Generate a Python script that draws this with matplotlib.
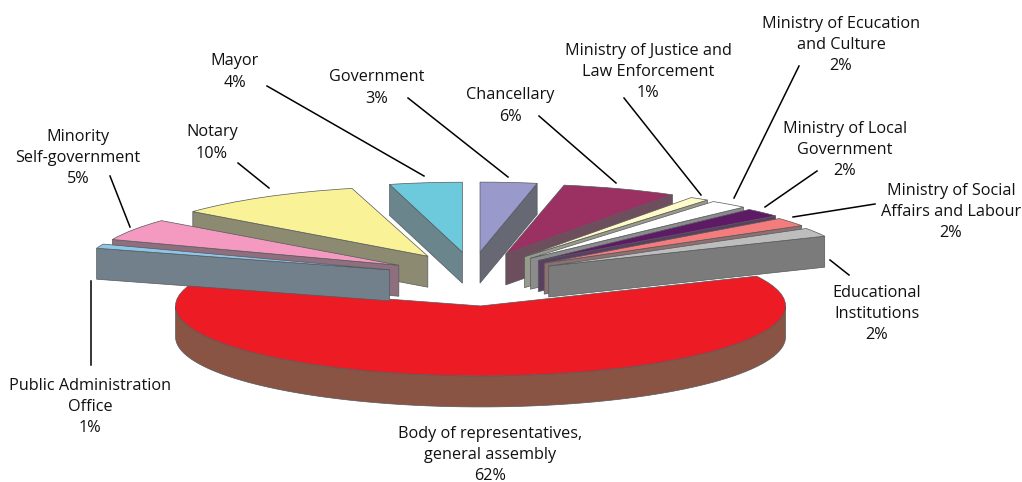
import numpy as np
import matplotlib
matplotlib.use('Agg')
import matplotlib.pyplot as plt
from matplotlib.patches import Polygon
from matplotlib.transforms import Affine2D

plt.rcParams['font.family'] = ['Open Sans', 'DejaVu Sans']

# clockwise from 12 o'clock
names = ['Government', 'Chancellary', 'Ministry of Justice and\nLaw Enforcement',
         'Ministry of Ecucation\nand Culture', 'Ministry of Local\nGovernment',
         'Ministry of Social\nAffairs and Labour', 'Educational\nInstitutions',
         'Body of representatives,\ngeneral assembly', 'Public Administration\nOffice',
         'Minority\nSelf-government', 'Notary', 'Mayor']
shares = [3, 6, 1, 2, 2, 2, 2, 62, 1, 5, 10, 4]

top_colors = ['#9999CC', '#9A3162', '#FFFBC9', '#FFFFFF', '#5F1A66', '#F47C7C', '#BDBDBD',
              '#ED1C24', '#8EC6EA', '#F49AC1', '#F9F297', '#6DCADD']
wall_colors = ['#666874', '#6D4E5C', '#9A9A8C', '#8C8C8C', '#5A4060', '#8F7070', '#7B7B7B',
               '#8A5444', '#72808C', '#8F6F7E', '#8C8B72', '#6A858C']

# per slice tweak of how far it is pulled out and how long it is
spread = [1.0, 1.08, 1.1, 1.08, 1.07, 1.05, 1.03, 1.6, 1.03, 1.0, 0.97, 0.9]
reach = [1.0, 1.02, 1.02, 1.02, 1.01, 1.0, 1.0, 1.0, 1.01, 1.01, 1.0, 0.96]

# label centres and leader lines, in pixels
label_xy = [(377, 88), (510, 106), (648, 72), (841, 45), (845, 150), (951, 212), (877, 314),
            (490, 455), (90, 407), (78, 158), (212, 143), (235, 72)]
leaders = [((408, 98), (508, 177)), ((539, 116), (616, 183)), ((624, 98), (701, 195)),
           ((799, 66), (734, 198)), ((817, 171), (765, 207)), ((875, 204), (793, 217)),
           ((849, 275), (830, 260)), None, ((91, 281), (91, 365)), ((110, 176), (130, 227)),
           ((238, 163), (269, 188)), ((267, 86), (424, 176))]

cx, cy = 472, 279
rx, ry = 305, 70
ex, ey = 85, 27
depth = 31
edge = '#55595c'

fig = plt.figure(figsize=(10.22, 4.82), dpi=100)
ax = fig.add_axes([0, 0, 1, 1])
wedges, _ = ax.pie(shares, startangle=90, counterclock=False, radius=1)
ax.set_aspect('auto')
ax.set_xlim(0, 1022)
ax.set_ylim(482, 0)
ax.axis('off')


def point(x0, y0, a, sx, d=0):
    t = np.radians(a)
    return x0 + rx * sx * np.cos(t), y0 - ry * np.sin(t) + d


# red goes underneath everything, then back to front on each side
order = [7, 11, 10, 9, 8, 0, 1, 2, 3, 4, 5, 6]
for z, i in enumerate(order):
    w = wedges[i]
    mid = np.radians((w.theta1 + w.theta2) / 2)
    x0 = cx + ex * spread[i] * np.cos(mid)
    y0 = cy - ey * np.sin(mid)

    if i == 7:
        arc = np.linspace(180, 360, 80)
        pts = [point(x0, y0, a, reach[i]) for a in arc]
        pts += [point(x0, y0, a, reach[i], depth) for a in arc[::-1]]
    else:
        # visible cut face is the lower radial edge of the slice
        a = w.theta1 if np.cos(mid) > 0 else w.theta2
        a_pt = point(x0, y0, a, reach[i])
        pts = [(x0, y0), a_pt, (a_pt[0], a_pt[1] + depth), (x0, y0 + depth)]
    ax.add_patch(Polygon(pts, closed=True, facecolor=wall_colors[i], edgecolor=edge, lw=0.5, zorder=z + 2))

    w.set_transform(Affine2D().scale(rx * reach[i], -ry).translate(x0, y0) + ax.transData)
    w.set_facecolor(top_colors[i])
    w.set_edgecolor(edge)
    w.set_linewidth(0.5)
    w.set_zorder(z + 2.5)

for name, share, (tx, ty), line in zip(names, shares, label_xy, leaders):
    ax.text(tx, ty, f'{name}\n{share}%', ha='center', va='center', fontsize=11.7,
            color='#111111', linespacing=1.42, zorder=30)
    if line:
        ax.plot([line[0][0], line[1][0]], [line[0][1], line[1][1]], color='black', lw=1.1, zorder=30)

fig.savefig('out.png', dpi=100)
